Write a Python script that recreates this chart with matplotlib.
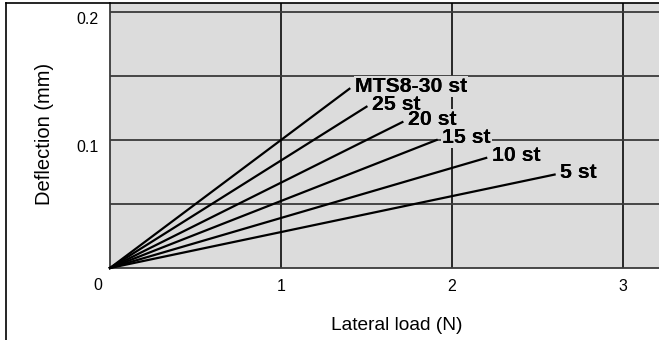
import matplotlib
matplotlib.use('Agg')
import matplotlib.pyplot as plt
import matplotlib.transforms as mtransforms
from matplotlib.lines import Line2D

plt.rcParams['font.family'] = ['Liberation Sans', 'DejaVu Sans']

# --- Dati ---
corse = ["MTS8-30 st", "25 st", "20 st", "15 st", "10 st", "5 st"]
carico_fine = [1.40, 1.50, 1.71, 1.91, 2.20, 2.60]        # Lateral load (N)
freccia_fine = [0.140, 0.126, 0.114, 0.100, 0.086, 0.073]  # Deflection (mm)

x_ticks = [1, 2, 3]
y_ticks = [0.1, 0.2]
y_grid = [0.05, 0.1, 0.15, 0.2]

W, H = 659, 340
fig = plt.figure(figsize=(W / 100, H / 100), dpi=100)
ax = fig.add_axes([110 / W, 1 - 268 / H, 1 - 110 / W, (268 - 3) / H])
ax.set_facecolor('#dcdcdc')
ax.set_xlim(0, (W - 110) / 171)
ax.set_ylim(0, (268 - 3) / 1280)

# griglia
for gx in x_ticks:
    ax.axvline(gx, color='#1a1a1a', lw=1.3, zorder=1)
for gy in y_grid:
    ax.axhline(gy, color='#3a3a3a', lw=1.3, zorder=1)

for s in ['top', 'right']:
    ax.spines[s].set_visible(False)
for s in ['left', 'bottom']:
    ax.spines[s].set_color('#3a3a3a')
    ax.spines[s].set_linewidth(1.3)

# rette dall'origine + etichette (sfondo grigio sotto, testo sopra)
for nome, xe, ye in zip(corse, carico_fine, freccia_fine):
    ax.plot([0, xe], [0, ye], color='black', lw=1.6, zorder=3, clip_on=False)
    for z, box in [(4, True), (5, False)]:
        ax.annotate(nome, (xe, ye), textcoords='offset points', xytext=(4, 1.5),
                    ha='left', va='center', fontsize=15.3, fontweight='bold',
                    zorder=z,
                    bbox=dict(boxstyle='square,pad=0.05', fc='#dcdcdc', ec='none') if box else None)

ax.set_xticks(x_ticks)
ax.set_xticklabels([str(v) for v in x_ticks])
ax.set_yticks(y_ticks)
ax.set_yticklabels([f'{v:.1f}' for v in y_ticks])
ax.tick_params(length=0, labelsize=11.5)
ax.tick_params(axis='x', pad=8)
ax.tick_params(axis='y', pad=8)
giu = mtransforms.ScaledTranslation(0, -6 / 100, fig.dpi_scale_trans)
for lbl in ax.get_yticklabels():
    lbl.set_transform(lbl.get_transform() + giu)
ax.annotate('0', (0, 0), textcoords='offset points', xytext=(-8.5, -12.5),
            ha='center', va='center', fontsize=11.5, annotation_clip=False)

fig.text(397 / W, 1 - 325 / H, 'Lateral load (N)', ha='center', va='center', fontsize=13.8)
fig.text(44 / W, 1 - 134 / H, 'Deflection (mm)', ha='center', va='center',
         fontsize=14.5, rotation=90)

# cornice esterna
fig.add_artist(Line2D([6 / W, 6 / W], [0, 1 - 3 / H], transform=fig.transFigure,
                      color='black', lw=1.2))
fig.add_artist(Line2D([6 / W, 1], [1 - 3 / H, 1 - 3 / H], transform=fig.transFigure,
                      color='black', lw=1.2))

fig.savefig('out.png', dpi=100)
